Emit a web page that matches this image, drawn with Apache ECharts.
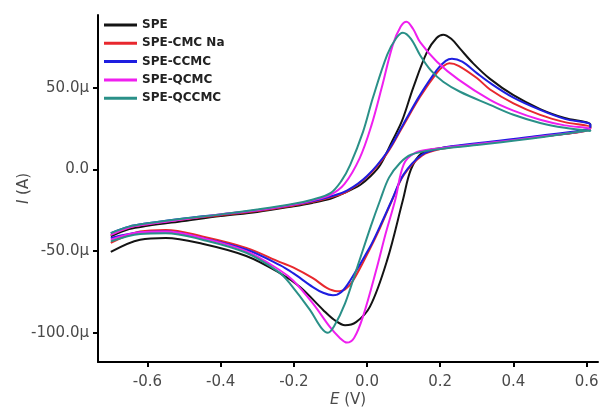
<!DOCTYPE html>
<html>
<head>
<meta charset="utf-8">
<script src="https://cdn.jsdelivr.net/npm/echarts@6/dist/echarts.min.js"></script>
<style>
  html, body { margin: 0; padding: 0; background: #fff; }
  #chart { width: 600px; height: 410px; }
</style>
</head>
<body>
<div id="chart"></div>
<script>
  // 图例名称
  const names = ["SPE", "SPE-CMC Na", "SPE-CCMC", "SPE-QCMC", "SPE-QCCMC"];
  const colors = ["#141414", "#e8282e", "#1e1ee0", "#ef1fef", "#2a9088"];

  // 刻度
  const xTicks = [-0.6, -0.4, -0.2, 0.0, 0.2, 0.4, 0.6];
  const yTicks = [-100, -50, 0, 50];

  // [E (V), I (µA)] 正扫 / 反扫
  const speFwd = [[-0.7,-41],[-0.65,-36.5],[-0.6,-34.5],[-0.5,-31.5],[-0.4,-28.5],[-0.3,-26],[-0.2,-22.5],[-0.15,-20.5],[-0.1,-18],[-0.074,-15.6],[-0.04,-12],[-0.019,-9.5],[0.01,-4],[0.036,2.8],[0.068,17],[0.096,30],[0.126,50],[0.164,72],[0.19,80.5],[0.208,82.5],[0.23,80],[0.254,74],[0.29,65],[0.336,55.5],[0.4,45.5],[0.473,37],[0.54,31.5],[0.61,27.5]];
  const speRev = [[0.61,25.5],[0.45,19.5],[0.3,15.5],[0.2,13],[0.15,10],[0.12,0],[0.098,-18.7],[0.055,-55.5],[0.008,-84],[-0.03,-93.5],[-0.06,-95.4],[-0.09,-92],[-0.12,-86],[-0.183,-72],[-0.238,-63.5],[-0.33,-53],[-0.45,-45.5],[-0.55,-42],[-0.62,-43],[-0.7,-50.5]];

  const cmcFwd = [[-0.7,-40],[-0.65,-35.5],[-0.6,-33.5],[-0.5,-30.5],[-0.4,-28],[-0.3,-25.5],[-0.2,-22],[-0.15,-20],[-0.1,-17],[-0.055,-13.5],[0,-4.5],[0.055,10],[0.098,26.5],[0.145,44.5],[0.19,59],[0.21,63.5],[0.225,65],[0.25,63.5],[0.3,56],[0.336,49],[0.4,40.5],[0.473,33.4],[0.54,29],[0.61,26]];
  const cmcRev = [[0.61,25],[0.45,19.5],[0.3,15.5],[0.2,12.5],[0.15,8.5],[0.1,-3.5],[0.068,-19],[0.035,-36],[0.008,-48.5],[-0.038,-68],[-0.06,-73.5],[-0.082,-74.5],[-0.11,-72.5],[-0.148,-66.6],[-0.202,-60],[-0.238,-56.7],[-0.33,-48],[-0.45,-41],[-0.55,-37],[-0.62,-38],[-0.7,-45]];

  const ccmcFwd = [[-0.7,-39],[-0.65,-35],[-0.6,-33],[-0.5,-30],[-0.4,-27.5],[-0.3,-25],[-0.2,-21.5],[-0.15,-19.5],[-0.1,-16.5],[-0.055,-13],[0,-4],[0.055,10.7],[0.098,27.3],[0.145,45.7],[0.191,61],[0.215,66.5],[0.232,67.8],[0.26,66],[0.3,59],[0.336,53],[0.4,44],[0.473,36.5],[0.54,31],[0.61,27.5]];
  const ccmcRev = [[0.61,26],[0.45,20],[0.3,16],[0.2,13],[0.15,9],[0.1,-3],[0.068,-18.7],[0.035,-35],[0.008,-47.5],[-0.046,-68],[-0.07,-75],[-0.093,-77],[-0.12,-75.5],[-0.148,-72],[-0.202,-63.5],[-0.238,-58.6],[-0.33,-49],[-0.45,-42],[-0.55,-38],[-0.62,-38.5],[-0.7,-42]];

  const qcmcFwd = [[-0.7,-40],[-0.65,-35.5],[-0.6,-33.5],[-0.5,-30.5],[-0.4,-27.5],[-0.3,-25],[-0.2,-21.5],[-0.15,-19],[-0.1,-15.5],[-0.062,-9],[-0.02,7],[0.012,27],[0.04,50],[0.07,76],[0.092,87.5],[0.108,90.5],[0.126,86],[0.145,78],[0.191,66],[0.25,55],[0.336,42.6],[0.4,36],[0.473,30.4],[0.54,27],[0.61,25]];
  const qcmcRev = [[0.61,25],[0.45,19.5],[0.3,15.5],[0.18,12.5],[0.13,10],[0.1,3],[0.077,-18.7],[0.05,-40],[0.027,-60],[-0.011,-90],[-0.035,-103],[-0.055,-106],[-0.075,-103],[-0.101,-96.6],[-0.148,-82],[-0.202,-68],[-0.238,-61.7],[-0.33,-50],[-0.45,-42],[-0.55,-38],[-0.62,-38.5],[-0.7,-43]];

  const qccmcFwd = [[-0.7,-39],[-0.65,-35],[-0.6,-33],[-0.5,-30],[-0.4,-27.5],[-0.3,-24.5],[-0.2,-21],[-0.15,-18.5],[-0.1,-14.5],[-0.07,-7],[-0.046,2.8],[-0.011,23],[0.016,43.9],[0.055,70.2],[0.08,80.5],[0.098,83.7],[0.12,80],[0.145,70],[0.175,60.5],[0.208,53.7],[0.254,47.6],[0.336,39.6],[0.4,33.5],[0.473,28.5],[0.54,25.5],[0.61,23.5]];
  const qccmcRev = [[0.61,24],[0.45,19],[0.3,15],[0.18,12],[0.12,9],[0.09,4],[0.06,-5],[0.036,-18.7],[0.01,-35],[-0.027,-60],[-0.06,-82],[-0.09,-96],[-0.107,-100],[-0.125,-97],[-0.156,-86],[-0.21,-70],[-0.24,-63],[-0.33,-51],[-0.45,-43],[-0.55,-39],[-0.62,-39.5],[-0.7,-44]];

  const curves = [
    speFwd.concat(speRev),
    cmcFwd.concat(cmcRev),
    ccmcFwd.concat(ccmcRev),
    qcmcFwd.concat(qcmcRev),
    qccmcFwd.concat(qccmcRev)
  ];

  const chart = echarts.init(document.getElementById("chart"));

  const labelFont = {
    fontFamily: "DejaVu Sans",
    fontSize: 15,
    color: "#4a4a4a"
  };

  const option = {
    animation: false,
    backgroundColor: "#fff",
    color: colors,
    legend: {
      orient: "vertical",
      left: 104,
      top: 18,
      padding: 0,
      icon: "rect",
      itemWidth: 33,
      itemHeight: 3,
      itemGap: 4.3,
      textStyle: {
        fontFamily: "DejaVu Sans",
        fontWeight: "bold",
        fontSize: 12,
        lineHeight: 14,
        color: "#222"
      },
      data: names
    },
    grid: {
      left: 98,
      right: 2,
      top: 15,
      bottom: 48,
      outerBoundsMode: "none"
    },
    xAxis: {
      type: "value",
      min: -0.735,
      max: 0.631,
      name: "{i|E} (V)",
      nameLocation: "middle",
      nameGap: 31,
      nameMoveOverlap: false,
      nameTextStyle: {
        ...labelFont,
        rich: { i: { ...labelFont, fontStyle: "italic" } }
      },
      axisLine: { onZero: false, lineStyle: { color: "#000", width: 2 } },
      axisTick: { customValues: xTicks, length: 5, lineStyle: { color: "#000", width: 2 } },
      axisLabel: {
        customValues: xTicks,
        margin: 13,
        ...labelFont,
        formatter: (v) => v.toFixed(1)
      },
      splitLine: { show: false }
    },
    yAxis: {
      type: "value",
      min: -117.9,
      max: 94.6,
      name: "{i|I} (A)",
      nameLocation: "middle",
      nameRotate: 90,
      nameGap: 66,
      nameMoveOverlap: false,
      nameTextStyle: {
        ...labelFont,
        rich: { i: { ...labelFont, fontStyle: "italic" } }
      },
      axisLine: { onZero: false, lineStyle: { color: "#000", width: 2 } },
      axisTick: { customValues: yTicks, length: 5, lineStyle: { color: "#000", width: 2 } },
      axisLabel: {
        customValues: yTicks,
        margin: 9,
        ...labelFont,
        formatter: (v) => (v === 0 ? "0.0" : v.toFixed(1) + "µ")
      },
      splitLine: { show: false }
    },
    series: names.map((n, i) => ({
      name: n,
      type: "line",
      data: curves[i],
      showSymbol: false,
      smooth: 0.35,
      lineStyle: { width: 2 }
    }))
  };

  chart.setOption(option);
</script>
</body>
</html>
